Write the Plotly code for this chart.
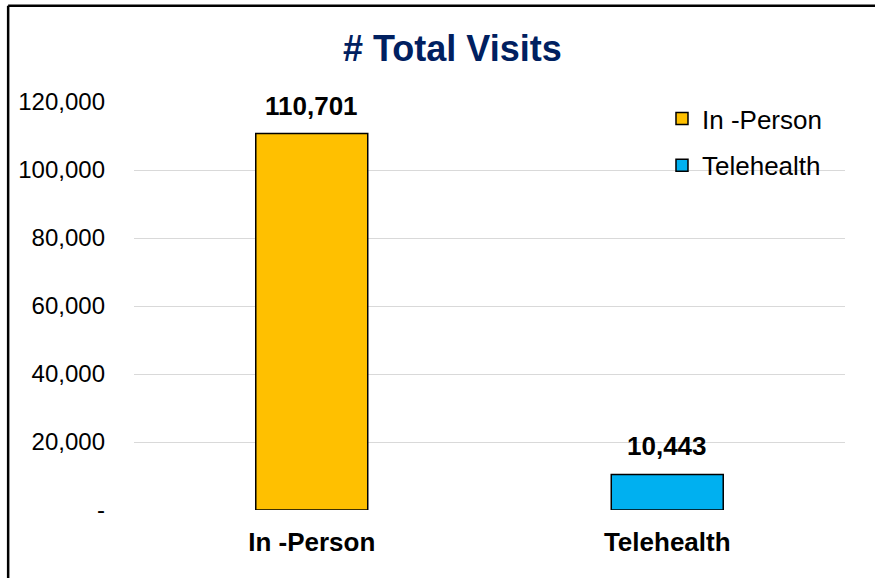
import plotly.graph_objects as go

# values
categories = ["In -Person", "Telehealth"]
visits = [110701, 10443]
colors = ["#FFC000", "#00B0F0"]
y_ticks = [0, 20000, 40000, 60000, 80000, 100000, 120000]
y_labels = ["-", "20,000", "40,000", "60,000", "80,000", "100,000", "120,000"]

font = "Arial, Liberation Sans, sans-serif"

fig = go.Figure()
for i, cat in enumerate(categories):
    fig.add_trace(go.Bar(
        x=[cat], y=[visits[i]], name=cat,
        legendgroup=cat,
        width=0.315,
        marker=dict(color=colors[i], line=dict(color="black", width=1.5)),
    ))
    # value label above the bar
    fig.add_annotation(x=cat, y=visits[i], text=f"<b>{visits[i]:,}</b>",
                       showarrow=False, yanchor="bottom", yshift=11,
                       font=dict(family=font, size=26, color="black"))

fig.update_layout(
    width=875, height=578,
    margin=dict(l=134, r=30, t=102, b=68),
    paper_bgcolor="white", plot_bgcolor="white",
    barmode="overlay",
    title=dict(text="<b># Total Visits</b>", x=0.517, xanchor="center",
               y=0.917, yanchor="middle",
               font=dict(family=font, size=36, color="#002060")),
    font=dict(family=font, color="black"),
    legend=dict(x=0.7426, xanchor="left", y=1.017, yanchor="top",
                font=dict(family=font, size=26, color="black"),
                tracegroupgap=10, bgcolor="rgba(0,0,0,0)"),
)

fig.update_yaxes(range=[0, 120000], tickvals=y_ticks, ticktext=y_labels,
                 showgrid=True, gridcolor="#D9D9D9", gridwidth=1.3,
                 zeroline=False, showline=False, ticks="",
                 ticklabelstandoff=28,
                 tickfont=dict(family=font, size=24, color="black"))
fig.update_xaxes(showgrid=False, showline=False, ticks="",
                 ticklabelstandoff=14,
                 tickfont=dict(family=font, size=26, color="black", weight="bold"))

# chart frame (left and top edges visible in the crop)
fig.add_shape(type="line", xref="paper", yref="paper",
              x0=-0.177, x1=1.1, y0=1.236, y1=1.236,
              line=dict(color="black", width=2.5))
fig.add_shape(type="line", xref="paper", yref="paper",
              x0=-0.177, x1=-0.177, y0=1.236, y1=-0.2,
              line=dict(color="black", width=2.5))

fig.write_html("out.html", config={"displayModeBar": False},
               post_script="document.body.style.margin='0';")
